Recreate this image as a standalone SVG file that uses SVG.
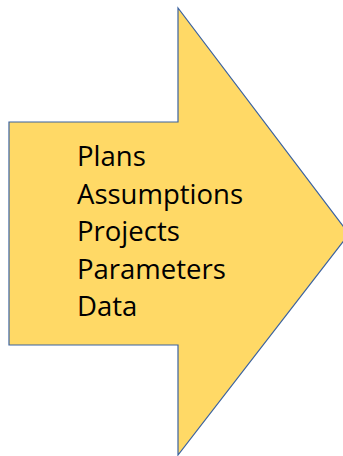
<svg xmlns="http://www.w3.org/2000/svg" width="343" height="456" viewBox="0 0 343 456">
  <style>
    .shape { fill: #FFD966; stroke: #3B62A0; stroke-width: 1.2; stroke-linejoin: miter; }
    .label { font-family: "Open Sans", "Noto Sans", "Liberation Sans", sans-serif; font-size: 27.5px; fill: #000000; }
  </style>
  <rect width="343" height="456" fill="#FFFFFF"/>
  <g id="arrow">
    <polygon class="shape" points="9,122 178,122 178,8 349,234 178,455 178,345 9,345"/>
  </g>
  <g id="labels">
    <text class="label" x="77" y="166">Plans</text>
    <text class="label" x="77" y="204">Assumptions</text>
    <text class="label" x="77" y="241">Projects</text>
    <text class="label" x="77" y="279">Parameters</text>
    <text class="label" x="77" y="316">Data</text>
  </g>
</svg>
